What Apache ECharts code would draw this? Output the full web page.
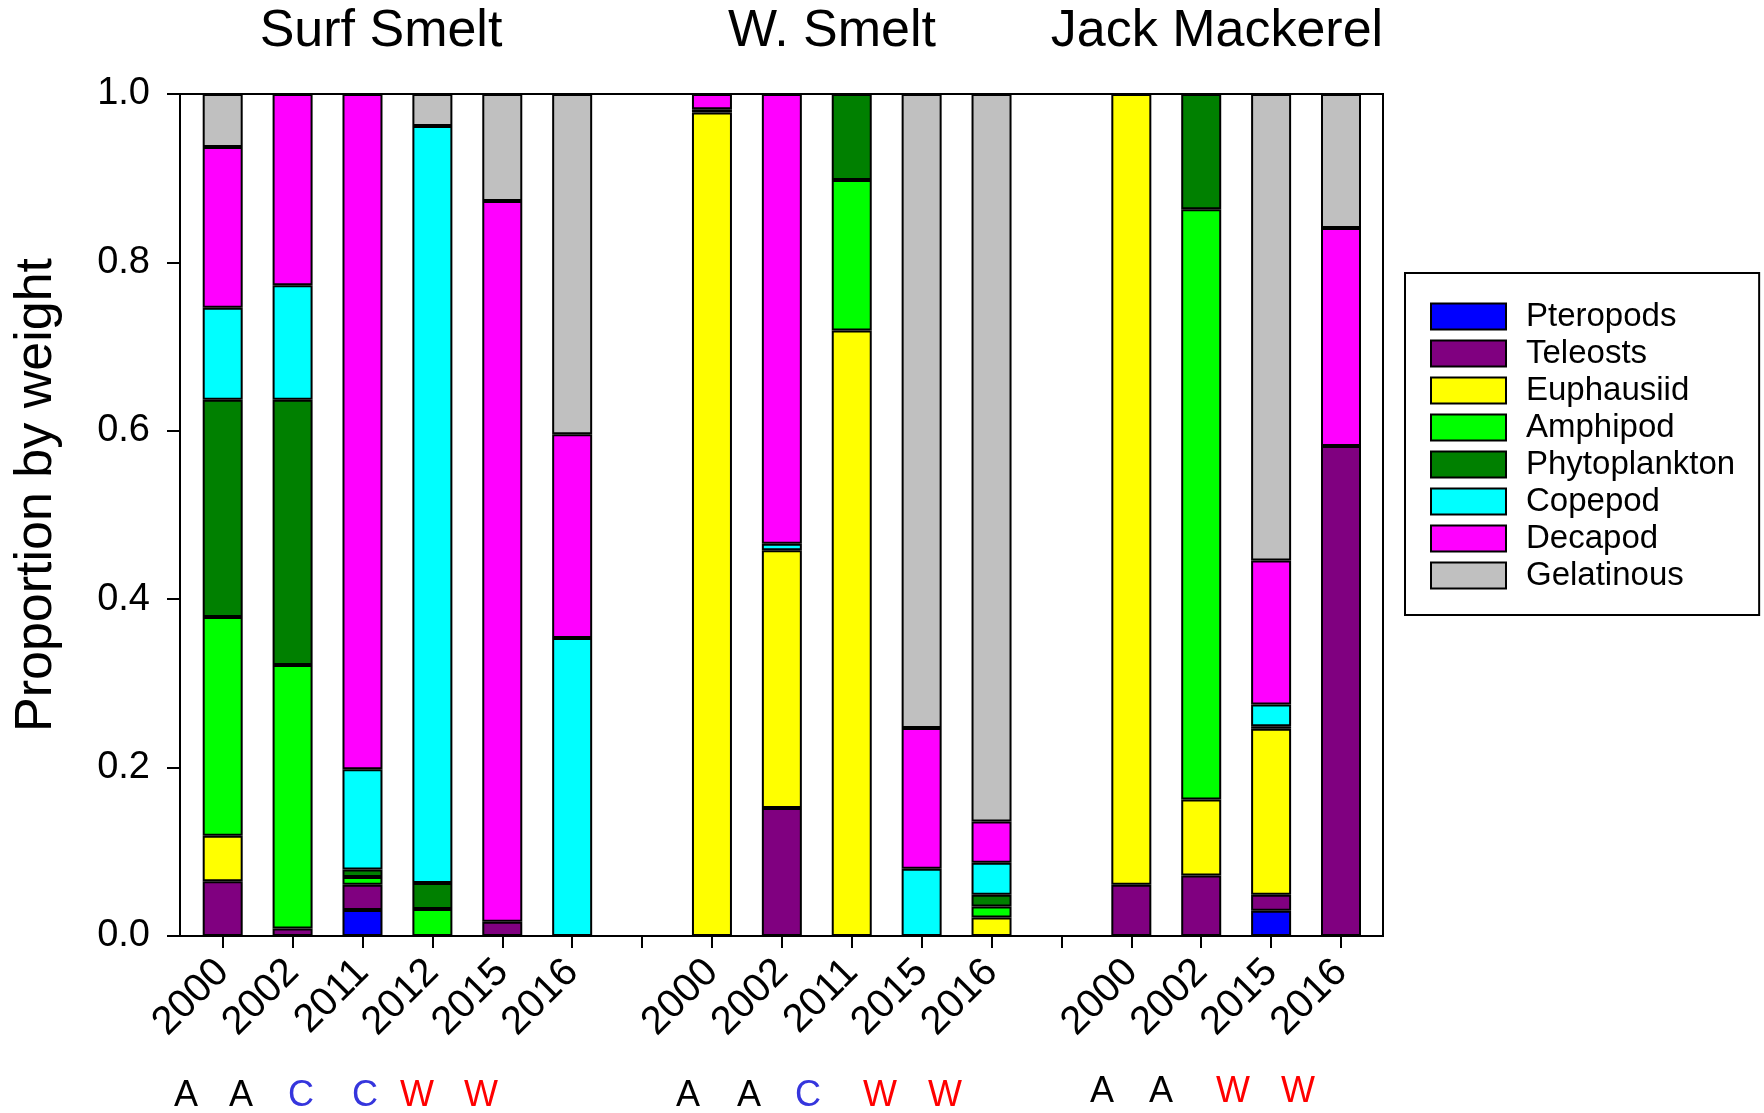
<!DOCTYPE html>
<html>
<head>
<meta charset="utf-8">
<script src="https://cdn.jsdelivr.net/npm/echarts@6/dist/echarts.min.js"></script>
<style>
  html, body { margin: 0; padding: 0; background: #fff; }
  #chart { width: 1764px; height: 1113px; }
</style>
</head>
<body>
<div id="chart"></div>
<script>
// Bar slots: Surf Smelt (0-5), gap (6), W. Smelt (7-11), gap (12), Jack Mackerel (13-16)
const yearLabels = ['2000', '2002', '2011', '2012', '2015', '2016', '',
                    '2000', '2002', '2011', '2015', '2016', '',
                    '2000', '2002', '2015', '2016'];

// Diet proportions by weight, one value per slot (gaps are 0)
const pteropods    = [0,     0,     0.031, 0,     0,     0,     0, 0,     0,     0,     0,     0,     0, 0,     0,     0.030, 0];
const teleosts     = [0.065, 0.009, 0.030, 0,     0.017, 0,     0, 0,     0.152, 0,     0,     0,     0, 0.061, 0.072, 0.019, 0.582];
const euphausiid   = [0.054, 0,     0,     0,     0,     0,     0, 0.978, 0.306, 0.719, 0,     0.022, 0, 0.939, 0.090, 0.197, 0];
const amphipod     = [0.260, 0.313, 0.009, 0.032, 0,     0,     0, 0,     0,     0.179, 0,     0.013, 0, 0,     0.701, 0,     0];
const phytoplankton= [0.258, 0.315, 0.009, 0.031, 0,     0,     0, 0,     0,     0.102, 0,     0.014, 0, 0,     0.137, 0.003, 0];
const copepod      = [0.109, 0.136, 0.119, 0.899, 0,     0.354, 0, 0.004, 0.008, 0,     0.080, 0.038, 0, 0,     0,     0.026, 0];
const decapod      = [0.191, 0.227, 0.802, 0,     0.856, 0.242, 0, 0.018, 0.534, 0,     0.167, 0.049, 0, 0,     0,     0.171, 0.259];
const gelatinous   = [0.063, 0,     0,     0.038, 0.127, 0.404, 0, 0,     0,     0,     0.753, 0.864, 0, 0,     0,     0.554, 0.159];

const speciesTitles = ['Surf Smelt', 'W. Smelt', 'Jack Mackerel'];
// Ocean condition codes under each species group
const conditionCodes = [['A', 'A', 'C', 'C', 'W', 'W'],
                        ['A', 'A', 'C', 'W', 'W'],
                        ['A', 'A', 'W', 'W']];
const yTitle = 'Proportion by weight';

const FONT = '"Liberation Sans", Arial, Helvetica, sans-serif';

const preyGroups = [
  { name: 'Pteropods',     color: '#0000FF', values: pteropods },
  { name: 'Teleosts',      color: '#800080', values: teleosts },
  { name: 'Euphausiid',    color: '#FFFF00', values: euphausiid },
  { name: 'Amphipod',      color: '#00FF00', values: amphipod },
  { name: 'Phytoplankton', color: '#008000', values: phytoplankton },
  { name: 'Copepod',       color: '#00FFFF', values: copepod },
  { name: 'Decapod',       color: '#FF00FF', values: decapod },
  { name: 'Gelatinous',    color: '#C0C0C0', values: gelatinous }
];

// Text placement for the header, the y title and the condition-code row
const titleX = [381, 832, 1217];
const codeX = [[186, 241, 301, 365, 417, 481],
               [688, 749, 808, 880, 945],
               [1102, 1161, 1233, 1298]];
const codeY = [1096, 1096, 1092];
const codeColor = { A: '#000000', C: '#3535DD', W: '#FF0000' };

const graphics = [];
speciesTitles.forEach((t, g) => {
  graphics.push({
    type: 'text', x: titleX[g], y: 32,
    style: { text: t, font: '52px ' + FONT, fill: '#000', align: 'center', verticalAlign: 'middle' }
  });
});
graphics.push({
  type: 'text', x: 37, y: 495, rotation: Math.PI / 2,
  style: { text: yTitle, font: '52px ' + FONT, fill: '#000', align: 'center', verticalAlign: 'middle' }
});
conditionCodes.forEach((codes, g) => {
  codes.forEach((c, k) => {
    graphics.push({
      type: 'text', x: codeX[g][k], y: codeY[g],
      style: { text: c, font: '36px ' + FONT, fill: codeColor[c], align: 'center', verticalAlign: 'middle' }
    });
  });
});

const chart = echarts.init(document.getElementById('chart'), null, { renderer: 'canvas' });

const axisBlack = { color: '#000', width: 2 };

chart.setOption({
  animation: false,
  backgroundColor: '#fff',
  textStyle: { fontFamily: FONT },
  grid: [
    // frame and proportion axis
    { left: 180, right: 381, top: 94, bottom: 177, show: true, borderColor: '#000', borderWidth: 2 },
    // bar slots, inset slightly inside the frame
    { left: 187.75, right: 388.05, top: 94, bottom: 177 }
  ],
  legend: {
    orient: 'vertical',
    left: 1405, top: 273,
    padding: [27, 24, 23, 25],
    borderColor: '#000', borderWidth: 2,
    itemWidth: 75, itemHeight: 26, itemGap: 4,
    icon: 'rect',
    textStyle: { fontSize: 33, color: '#000', padding: [0, 0, 0, 15], fontFamily: FONT },
    data: preyGroups.map(p => p.name)
  },
  xAxis: [
    { gridIndex: 0, type: 'value', min: 0, max: 1, show: false },
    {
      gridIndex: 1,
      type: 'category',
      data: yearLabels,
      axisLine: { show: false },
      axisTick: { show: true, alignWithLabel: true, interval: 0, length: 12, lineStyle: axisBlack },
      axisLabel: { interval: 0, rotate: 45, fontSize: 40, color: '#000', margin: 30, fontFamily: FONT },
      splitLine: { show: false }
    }
  ],
  yAxis: [
    {
      gridIndex: 0,
      type: 'value',
      min: 0, max: 1, interval: 0.2,
      splitLine: { show: false },
      axisLine: { show: true, onZero: false, lineStyle: axisBlack },
      axisTick: { show: true, length: 13, lineStyle: axisBlack },
      axisLabel: { fontSize: 38, color: '#000', margin: 30, fontFamily: FONT, formatter: v => v.toFixed(1) }
    },
    { gridIndex: 1, type: 'value', min: 0, max: 1, show: false }
  ],
  series: preyGroups.map(p => ({
    type: 'bar',
    name: p.name,
    xAxisIndex: 1,
    yAxisIndex: 1,
    stack: 'diet',
    barWidth: 40,
    itemStyle: { color: p.color, borderColor: '#000', borderWidth: 2 },
    data: p.values.map(v => (v > 0 ? v : '-'))
  })),
  graphic: graphics
});
</script>
</body>
</html>
